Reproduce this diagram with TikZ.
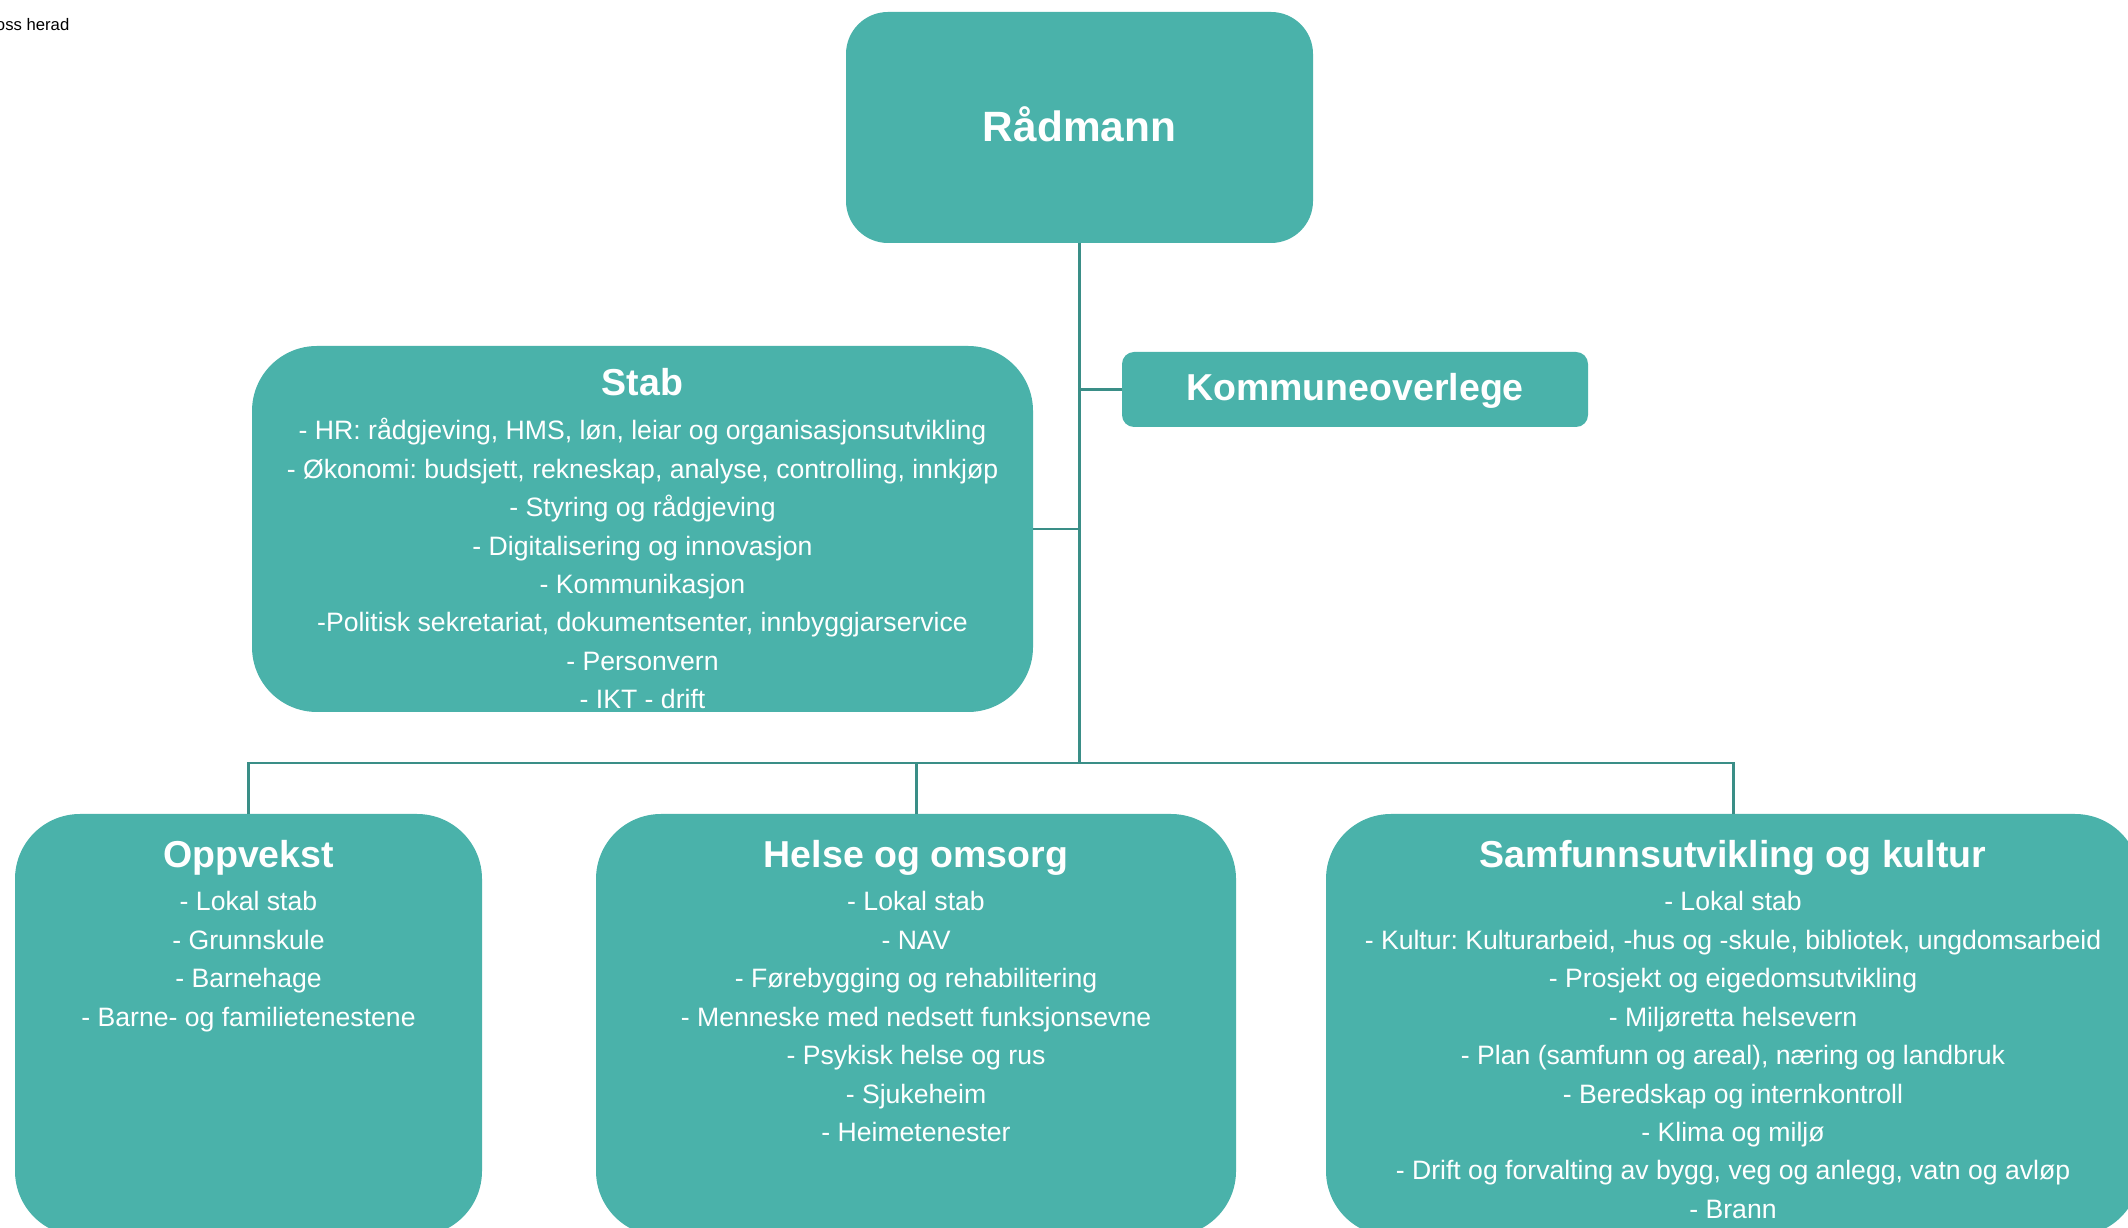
\documentclass[tikz,border=0pt]{standalone}
\usepackage{fontspec}
\setmainfont{Liberation Sans}
\usetikzlibrary{positioning,calc}
\definecolor{boxteal}{HTML}{4AB2AA}
\definecolor{lineteal}{HTML}{3A8E87}
\frenchspacing

\begin{document}
\begin{tikzpicture}[every node/.style={outer sep=0pt},
		unit/.style={fill=boxteal,draw=none,inner sep=0pt,rounded corners=0.65cm},
		head/.style={text=white,anchor=base,font=\fontsize{10.67}{12}\selectfont\bfseries},
		item/.style={text=white,anchor=base,font=\fontsize{7.57}{9}\selectfont},
		link/.style={draw=lineteal,line width=0.85pt}
		]
		\clip (0,0) rectangle (21.28,-12.28);

		\node[anchor=base west,inner sep=0pt,font=\fontsize{4.75}{5.5}\selectfont] (kommune-name) at (-0.04,-0.31) {oss herad};

		\node[unit,rounded corners=0.42cm,minimum width=4.67cm,minimum height=2.31cm] (radmann) at (10.795,-1.275) {};
		\node[unit,rounded corners=0.12cm,minimum width=4.66cm,minimum height=0.75cm] (overlege) at (13.55,-3.895) {};
		\node[unit,minimum width=7.81cm,minimum height=3.66cm] (stab) at (6.425,-5.29) {};
		\node[unit,minimum width=4.67cm,minimum height=4.22cm] (oppvekst) at (2.485,-10.25) {};
		\node[unit,minimum width=6.40cm,minimum height=4.22cm] (helse) at (9.16,-10.25) {};
		\node[unit,minimum width=8.14cm,minimum height=4.22cm] (samf) at (17.33,-10.25) {};

		% connectors
		\coordinate (bus) at ($(radmann.south)+(0,-5.2)$);
		\draw[link] (radmann.south) -- (bus);
		\draw[link] (overlege.west) -- (overlege.west -| bus);
		\draw[link] (stab.east) -- (stab.east -| bus);
		\draw[link] (oppvekst.north) -- (oppvekst.north |- bus) -- (samf.north |- bus) -- (samf.north);
		\draw[link] (helse.north) -- (helse.north |- bus);

		% texts
		\node[head,font=\fontsize{12.06}{14}\selectfont\bfseries] (radmann-t) at ($(radmann.center)+(0,-0.145)$) {Rådmann};
		\node[head] (overlege-t) at ($(overlege.center)+(0,-0.115)$) {Kommuneoverlege};

		\node[head] (stab-t) at ($(stab.north)+(0,-0.50)$) {Stab};
		\foreach \txt [count=\i] in {{- HR: rådgjeving, HMS, løn, leiar og organisasjonsutvikling},
			{- Økonomi: budsjett, rekneskap, analyse, controlling, innkjøp},
			{- Styring og rådgjeving},
			{- Digitalisering og innovasjon},
			{- Kommunikasjon},
			{-Politisk sekretariat, dokumentsenter, innbyggjarservice},
			{- Personvern},
			{- IKT - drift}}
			\node[item] (stab-\i) at ($(stab.north)+(0,{-0.94-0.384*(\i-1)})$) {\txt};

		\node[head] (oppvekst-t) at ($(oppvekst.north)+(0,-0.53)$) {Oppvekst};
		\foreach \txt [count=\i] in {{- Lokal stab},{- Grunnskule},{- Barnehage},{- Barne- og familietenestene}}
			\node[item] (oppvekst-\i) at ($(oppvekst.north)+(0,{-0.97-0.384*(\i-1)})$) {\txt};

		\node[head] (helse-t) at ($(helse.north)+(0,-0.53)$) {Helse og omsorg};
		\foreach \txt [count=\i] in {{- Lokal stab},{- NAV},{- Førebygging og rehabilitering},
			{- Menneske med nedsett funksjonsevne},{- Psykisk helse og rus},{- Sjukeheim},{- Heimetenester}}
			\node[item] (helse-\i) at ($(helse.north)+(0,{-0.97-0.384*(\i-1)})$) {\txt};

		\node[head] (samf-t) at ($(samf.north)+(0,-0.53)$) {Samfunnsutvikling og kultur};
		\foreach \txt [count=\i] in {{- Lokal stab},
			{- Kultur: Kulturarbeid, -hus og -skule, bibliotek, ungdomsarbeid},
			{- Prosjekt og eigedomsutvikling},
			{- Miljøretta helsevern},
			{- Plan (samfunn og areal), næring og landbruk},
			{- Beredskap og internkontroll},
			{- Klima og miljø},
			{- Drift og forvalting av bygg, veg og anlegg, vatn og avløp},
			{- Brann}}
			\node[item] (samf-\i) at ($(samf.north)+(0,{-0.97-0.384*(\i-1)})$) {\txt};
	\end{tikzpicture}
\end{document}
